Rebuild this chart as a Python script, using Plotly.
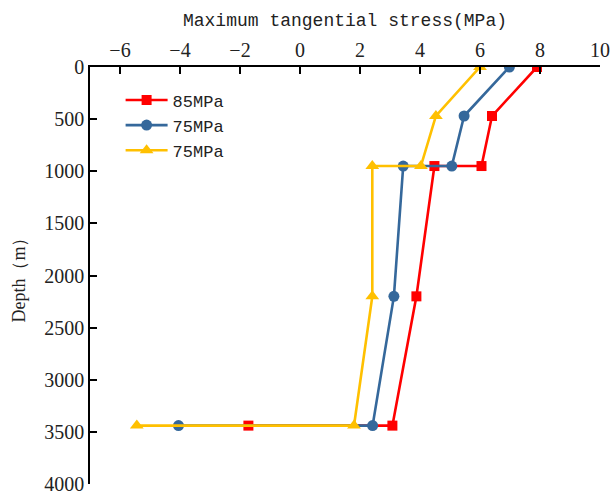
import plotly.graph_objects as go

# Depth profile points (m) shared by all three curves
depth = [0, 470, 950, 950, 2200, 3440, 3440]

# Maximum tangential stress (MPa) at each depth point
stress_85 = [7.9, 6.4, 6.05, 4.48, 3.88, 3.08, -1.72]
stress_75a = [6.98, 5.47, 5.06, 3.44, 3.13, 2.42, -4.05]
stress_75b = [6.0, 4.53, 4.03, 2.41, 2.41, 1.8, -5.44]

names = ["85MPa", "75MPa", "75MPa"]
x_ticks = [-6, -4, -2, 0, 2, 4, 6, 8, 10]
y_ticks = [0, 500, 1000, 1500, 2000, 2500, 3000, 3500, 4000]

RED = "#FF0000"
BLUE = "#35689B"
YELLOW = "#FFC000"

fig = go.Figure()
series = [
    (stress_85, names[0], RED, "square", 10),
    (stress_75a, names[1], BLUE, "circle", 11),
    (stress_75b, names[2], YELLOW, "triangle-up", 12),
]
for xs, name, color, symbol, size in series:
    fig.add_trace(go.Scatter(
        x=xs, y=depth, name=name, mode="lines+markers",
        line=dict(color=color, width=2.6),
        marker=dict(symbol=symbol, size=size, color=color),
    ))

fig.update_layout(
    width=612, height=495,
    margin=dict(l=90, r=12, t=67, b=11, autoexpand=False),
    paper_bgcolor="white", plot_bgcolor="white",
    font=dict(family="Liberation Serif", size=20, color="#222"),
    showlegend=True,
    legend=dict(
        x=0.06, y=0.963, xanchor="left", yanchor="top",
        bgcolor="rgba(0,0,0,0)",
        font=dict(family="Liberation Mono", size=17, color="#222"),
        itemwidth=42, tracegroupgap=0,
    ),
)

fig.update_xaxes(
    side="top", range=[-7, 10], tickvals=x_ticks, automargin=False,
    ticks="inside", ticklen=7, tickwidth=1.5, tickcolor="black",
    showline=True, linecolor="black", linewidth=1.5,
    showgrid=False, zeroline=False,
    tickfont=dict(family="Liberation Serif", size=20, color="#222"),
    title=dict(text="Maximum tangential stress(MPa)", standoff=8,
               font=dict(family="Liberation Mono", size=18, color="#222")),
)
fig.update_yaxes(
    range=[4000, 0], tickvals=y_ticks, automargin=False,
    ticks="inside", ticklen=7, tickwidth=1.5, tickcolor="black",
    showline=True, linecolor="black", linewidth=1.5,
    showgrid=False, zeroline=False,
    tickfont=dict(family="Liberation Serif", size=20, color="#222"),
    title=dict(text="Depth（m）", standoff=14,
               font=dict(family="Liberation Serif", size=18, color="#222")),
)

fig.write_html("out.html")
